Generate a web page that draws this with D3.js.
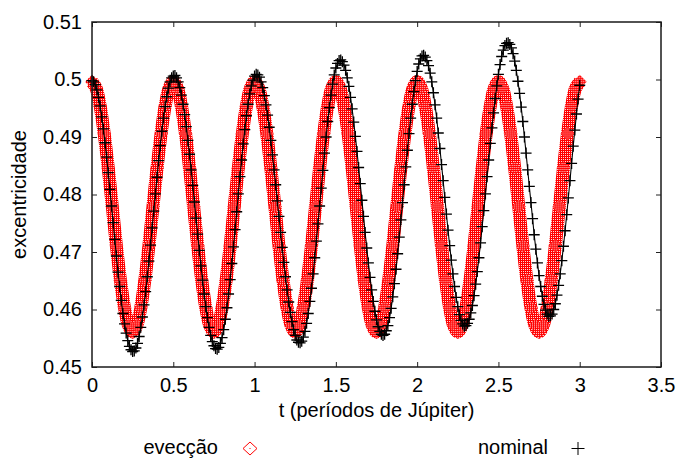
<!DOCTYPE html>
<html>
<head>
<meta charset="utf-8">
<script src="https://cdn.jsdelivr.net/npm/d3@7/dist/d3.min.js"></script>
<style>
  html, body { margin: 0; padding: 0; background: #fff; }
  svg text { font-family: "Liberation Sans", Arial, Helvetica, sans-serif; fill: #000; }
</style>
</head>
<body>
<svg id="chart" width="681" height="458"></svg>
<script>
// ---------------- data ----------------
const xTicks = [0, 0.5, 1, 1.5, 2, 2.5, 3, 3.5];
const xTickLabels = ["0", "0.5", "1", "1.5", "2", "2.5", "3", "3.5"];
const yTicks = [0.45, 0.46, 0.47, 0.48, 0.49, 0.5, 0.51];
const yTickLabels = ["0.45", "0.46", "0.47", "0.48", "0.49", "0.5", "0.51"];
const seriesNames = ["evecção", "nominal"];

// evecção: samples every 0.025 periods from t = 0 to 3
const eveccaoStep = 0.025;
const eveccao = [
  0.4996, 0.4985, 0.4954, 0.4906, 0.4846, 0.4779, 0.4711, 0.4651, 0.4603, 0.4572,
  0.4561, 0.4572, 0.4603, 0.4651, 0.4711, 0.4779, 0.4846, 0.4906, 0.4954, 0.4985,
  0.4996, 0.4985, 0.4954, 0.4906, 0.4846, 0.4779, 0.4711, 0.4651, 0.4603, 0.4572,
  0.4561, 0.4572, 0.4603, 0.4651, 0.4711, 0.4779, 0.4846, 0.4906, 0.4954, 0.4985,
  0.4996, 0.4985, 0.4954, 0.4906, 0.4846, 0.4779, 0.4711, 0.4651, 0.4603, 0.4572,
  0.4561, 0.4572, 0.4603, 0.4651, 0.4711, 0.4779, 0.4846, 0.4906, 0.4954, 0.4985,
  0.4996, 0.4985, 0.4954, 0.4906, 0.4846, 0.4779, 0.4711, 0.4651, 0.4603, 0.4572,
  0.4561, 0.4572, 0.4603, 0.4651, 0.4711, 0.4779, 0.4846, 0.4906, 0.4954, 0.4985,
  0.4996, 0.4985, 0.4954, 0.4906, 0.4846, 0.4779, 0.4711, 0.4651, 0.4603, 0.4572,
  0.4561, 0.4572, 0.4603, 0.4651, 0.4711, 0.4779, 0.4846, 0.4906, 0.4954, 0.4985,
  0.4996, 0.4985, 0.4954, 0.4906, 0.4846, 0.4779, 0.4711, 0.4651, 0.4603, 0.4572,
  0.4561, 0.4572, 0.4603, 0.4651, 0.4711, 0.4779, 0.4846, 0.4906, 0.4954, 0.4985,
  0.4996
];

// nominal: samples every 0.01 periods from t = 0 to 3
const nominalStep = 0.01;
const nominal = [
  0.4998, 0.4996, 0.4991, 0.4982, 0.4969, 0.4954, 0.4935, 0.4914, 0.4890, 0.4865,
  0.4838, 0.4809, 0.4780, 0.4751, 0.4722, 0.4693, 0.4665, 0.4640, 0.4616, 0.4593,
  0.4575, 0.4559, 0.4546, 0.4536, 0.4530, 0.4527, 0.4528, 0.4533, 0.4541, 0.4553,
  0.4569, 0.4587, 0.4608, 0.4631, 0.4657, 0.4684, 0.4712, 0.4742, 0.4771, 0.4801,
  0.4830, 0.4859, 0.4885, 0.4910, 0.4933, 0.4953, 0.4970, 0.4985, 0.4996, 0.5003,
  0.5006, 0.5007, 0.5003, 0.4996, 0.4986, 0.4973, 0.4957, 0.4939, 0.4918, 0.4894,
  0.4870, 0.4843, 0.4816, 0.4787, 0.4759, 0.4731, 0.4703, 0.4676, 0.4651, 0.4627,
  0.4605, 0.4586, 0.4569, 0.4555, 0.4544, 0.4537, 0.4532, 0.4531, 0.4534, 0.4541,
  0.4551, 0.4565, 0.4583, 0.4603, 0.4627, 0.4652, 0.4680, 0.4709, 0.4739, 0.4770,
  0.4801, 0.4831, 0.4860, 0.4888, 0.4913, 0.4937, 0.4957, 0.4975, 0.4989, 0.4999,
  0.5006, 0.5009, 0.5008, 0.5004, 0.4996, 0.4986, 0.4972, 0.4956, 0.4938, 0.4917,
  0.4894, 0.4869, 0.4843, 0.4817, 0.4789, 0.4762, 0.4734, 0.4708, 0.4682, 0.4657,
  0.4634, 0.4613, 0.4595, 0.4579, 0.4565, 0.4555, 0.4547, 0.4543, 0.4542, 0.4545,
  0.4552, 0.4562, 0.4576, 0.4593, 0.4614, 0.4637, 0.4662, 0.4690, 0.4719, 0.4749,
  0.4780, 0.4811, 0.4842, 0.4872, 0.4900, 0.4927, 0.4951, 0.4973, 0.4992, 0.5008,
  0.5020, 0.5028, 0.5033, 0.5034, 0.5031, 0.5025, 0.5016, 0.5003, 0.4988, 0.4969,
  0.4949, 0.4926, 0.4901, 0.4875, 0.4847, 0.4819, 0.4790, 0.4762, 0.4734, 0.4707,
  0.4681, 0.4656, 0.4634, 0.4614, 0.4597, 0.4582, 0.4570, 0.4562, 0.4557, 0.4555,
  0.4557, 0.4563, 0.4572, 0.4586, 0.4602, 0.4622, 0.4645, 0.4670, 0.4697, 0.4726,
  0.4756, 0.4786, 0.4817, 0.4848, 0.4877, 0.4906, 0.4933, 0.4957, 0.4979, 0.4998,
  0.5014, 0.5027, 0.5036, 0.5041, 0.5042, 0.5039, 0.5033, 0.5024, 0.5011, 0.4996,
  0.4977, 0.4956, 0.4933, 0.4907, 0.4880, 0.4852, 0.4824, 0.4795, 0.4766, 0.4738,
  0.4711, 0.4686, 0.4662, 0.4640, 0.4621, 0.4605, 0.4591, 0.4581, 0.4575, 0.4571,
  0.4572, 0.4576, 0.4583, 0.4594, 0.4607, 0.4624, 0.4644, 0.4666, 0.4690, 0.4716,
  0.4744, 0.4772, 0.4801, 0.4831, 0.4860, 0.4889, 0.4916, 0.4942, 0.4967, 0.4989,
  0.5009, 0.5026, 0.5040, 0.5051, 0.5059, 0.5063, 0.5064, 0.5061, 0.5055, 0.5045,
  0.5032, 0.5016, 0.4997, 0.4976, 0.4952, 0.4927, 0.4900, 0.4872, 0.4843, 0.4814,
  0.4786, 0.4758, 0.4730, 0.4705, 0.4681, 0.4659, 0.4640, 0.4623, 0.4609, 0.4599,
  0.4592, 0.4588, 0.4589, 0.4592, 0.4600, 0.4610, 0.4625, 0.4642, 0.4662, 0.4685,
  0.4710, 0.4737, 0.4765, 0.4794, 0.4824, 0.4854, 0.4884, 0.4912, 0.4940, 0.4966,
  0.4990
];

// ---------------- drawing ----------------
const W = 681, H = 458;
const plot = { left: 92, right: 661, top: 22, bottom: 367 };
const svg = d3.select("#chart");

svg.append("rect").attr("width", W).attr("height", H).attr("fill", "#fff");

const defs = svg.append("defs");
const pat = defs.append("pattern").attr("id", "speckle")
  .attr("patternUnits", "userSpaceOnUse").attr("width", 2).attr("height", 2);
pat.append("rect").attr("width", 2).attr("height", 2).attr("fill", "#ff0000");
pat.append("rect").attr("x", 1).attr("y", 1).attr("width", 1).attr("height", 1).attr("fill", "#ffd8d8");

const x = d3.scaleLinear().domain([0, 3.5]).range([plot.left, plot.right]);
const y = d3.scaleLinear().domain([0.45, 0.51]).range([plot.bottom, plot.top]);

const evData = eveccao.map((v, i) => ({ t: i * eveccaoStep, e: v }));
const noData = nominal.map((v, i) => ({ t: i * nominalStep, e: v }));

const fmtX = (d) => xTickLabels[xTicks.indexOf(d)];
const fmtY = (d) => yTickLabels[yTicks.indexOf(d)];

// axes with inward ticks
const axB = svg.append("g").attr("transform", `translate(0,${plot.bottom})`)
  .call(d3.axisBottom(x).tickValues(xTicks).tickFormat(fmtX).tickSize(-5).tickPadding(11));
const axT = svg.append("g").attr("transform", `translate(0,${plot.top})`)
  .call(d3.axisTop(x).tickValues(xTicks).tickFormat("").tickSize(-5));
const axL = svg.append("g").attr("transform", `translate(${plot.left},0)`)
  .call(d3.axisLeft(y).tickValues(yTicks).tickFormat(fmtY).tickSize(-5).tickPadding(10));
const axR = svg.append("g").attr("transform", `translate(${plot.right},0)`)
  .call(d3.axisRight(y).tickValues(yTicks).tickFormat("").tickSize(-5));
[axB, axT, axL, axR].forEach(g => {
  g.select(".domain").remove();
  g.selectAll(".tick line").attr("stroke", "#222").attr("stroke-width", 1);
  g.selectAll(".tick text").style("font-size", "20px")
    .style("font-family", "'Liberation Sans', Arial, sans-serif").attr("fill", "#000");
});

// red evecção band + diamonds
const evLine = d3.line().x(d => x(d.t)).y(d => y(d.e)).curve(d3.curveCatmullRom);
svg.append("path").datum(evData).attr("d", evLine)
  .attr("fill", "none").attr("stroke", "url(#speckle)").attr("stroke-width", 13)
  .attr("stroke-linejoin", "round");
const diamond = (s) => `M0,${-s}L${s},0L0,${s}L${-s},0Z`;
svg.append("g").selectAll("path").data(evData).join("path")
  .attr("transform", d => `translate(${x(d.t)},${y(d.e)})`)
  .attr("d", diamond(7))
  .attr("fill", "url(#speckle)");

// black nominal: thin trace + plus markers
const noLine = d3.line().x(d => x(d.t)).y(d => y(d.e));
svg.append("path").datum(noData).attr("d", noLine)
  .attr("fill", "none").attr("stroke", "#000").attr("stroke-width", 1.1);
svg.append("g").selectAll("path").data(noData).join("path")
  .attr("transform", d => `translate(${x(d.t)},${y(d.e)})`)
  .attr("d", "M-5.5,0H5.5M0,-5.5V5.5")
  .attr("fill", "none").attr("stroke", "#000").attr("stroke-width", 1.3);

// frame
svg.append("rect")
  .attr("x", plot.left).attr("y", plot.top)
  .attr("width", plot.right - plot.left).attr("height", plot.bottom - plot.top)
  .attr("fill", "none").attr("stroke", "#1a1a1a").attr("stroke-width", 1.5);

// axis titles
svg.append("text").attr("x", (plot.left + plot.right) / 2).attr("y", 417)
  .attr("text-anchor", "middle").style("font-size", "20px").text("t (períodos de Júpiter)");
svg.append("text").attr("transform", `translate(26,${(plot.top + plot.bottom) / 2}) rotate(-90)`)
  .attr("text-anchor", "middle").style("font-size", "20px").text("excentricidade");

// legend
svg.append("text").attr("x", 218).attr("y", 454).attr("text-anchor", "end")
  .style("font-size", "20px").text(seriesNames[0]);
svg.append("path").attr("transform", "translate(250,448.5)")
  .attr("d", "M0,-6.5L7,0L0,6.5L-7,0Z").attr("fill", "none").attr("stroke", "#ff0000").attr("stroke-width", 1);
svg.append("rect").attr("x", 249.5).attr("y", 448).attr("width", 1).attr("height", 1).attr("fill", "#ff0000");
svg.append("text").attr("x", 548).attr("y", 454).attr("text-anchor", "end")
  .style("font-size", "20px").text(seriesNames[1]);
svg.append("path").attr("transform", "translate(578,448.5)")
  .attr("d", "M-6.5,0H6.5M0,-6.5V6.5").attr("fill", "none").attr("stroke", "#000").attr("stroke-width", 1);
</script>
</body>
</html>
